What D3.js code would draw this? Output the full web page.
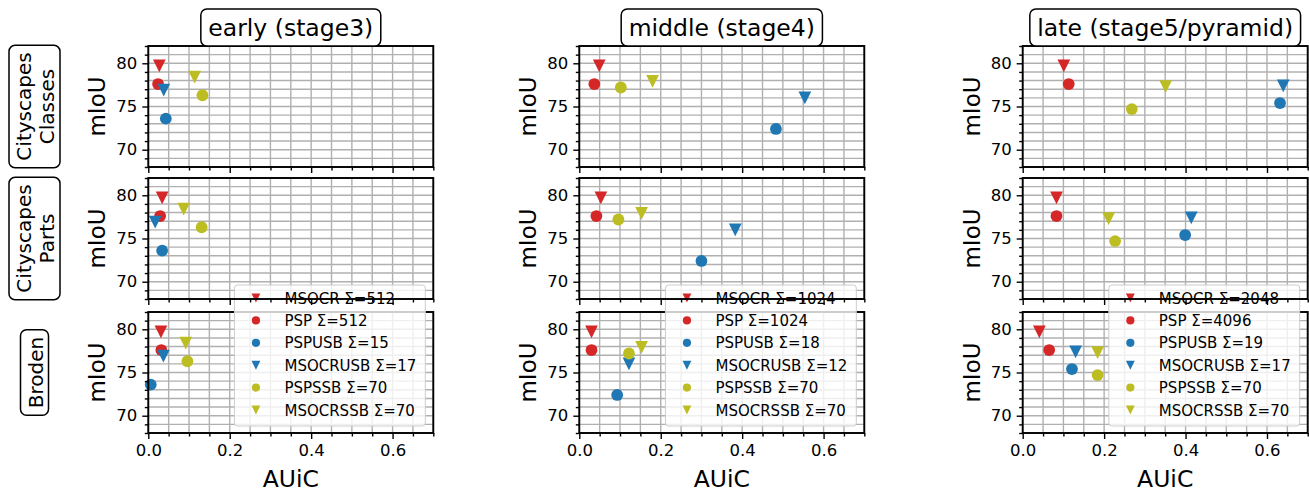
<!DOCTYPE html>
<html>
<head>
<script src="https://d3js.org/d3.v7.min.js"></script>
<style>
  body { margin: 0; background: #fff; }
  text { font-family: "DejaVu Sans", sans-serif; fill: #000; }
</style>
</head>
<body>
<script>
// ---- data ----
var stages = ["early (stage3)", "middle (stage4)", "late (stage5/pyramid)"];
var datasets = [["Cityscapes", "Classes"], ["Cityscapes", "Parts"], ["Broden"]];
var methods = ["MSOCR", "PSP", "PSPUSB", "MSOCRUSB", "PSPSSB", "MSOCRSSB"];

var sigmaEarly  = [512, 512, 15, 17, 70, 70];
var sigmaMiddle = [1024, 1024, 18, 12, 70, 70];
var sigmaLate   = [2048, 4096, 19, 17, 70, 70];

var miouEarly  = [79.7, 77.6, 73.6, 76.9, 76.3, 78.4];
var miouMiddle = [79.7, 77.6, 72.4, 76.0, 77.2, 77.9];
var miouLate   = [79.7, 77.6, 75.4, 77.4, 74.7, 77.3];

// AUiC per dataset row: Classes, Parts, Broden
var auicEarly  = [[0.027, 0.024, 0.043, 0.038, 0.133, 0.114],
                  [0.034, 0.029, 0.034, 0.017, 0.131, 0.087],
                  [0.031, 0.032, 0.006, 0.037, 0.096, 0.092]];
var auicMiddle = [[0.049, 0.037, 0.483, 0.554, 0.102, 0.180],
                  [0.053, 0.042, 0.300, 0.383, 0.096, 0.153],
                  [0.030, 0.030, 0.093, 0.122, 0.122, 0.153]];
var auicLate   = [[0.101, 0.113, 0.632, 0.640, 0.268, 0.351],
                  [0.083, 0.083, 0.399, 0.414, 0.227, 0.211],
                  [0.041, 0.065, 0.121, 0.130, 0.184, 0.184]];

var xTicks = [0.0, 0.2, 0.4, 0.6];
var yTicks = [70, 75, 80];

var sigmas = [sigmaEarly, sigmaMiddle, sigmaLate];
var mious = [miouEarly, miouMiddle, miouLate];
var auics = [auicEarly, auicMiddle, auicLate];

// ---- style / layout ----
var colors = ["#d62728", "#d62728", "#1f77b4", "#1f77b4", "#bcbd22", "#bcbd22"];
var shapes = ["tri", "dot", "dot", "tri", "dot", "tri"];

var W = 1309, H = 492;
var colLeft = [148.3, 579.3, 1022.7], axW = 285;
var rowTop = [46, 178, 312], axH = 121;

var svg = d3.select("body").append("svg")
  .attr("width", W).attr("height", H);

var gMain = svg.append("g");
var gSpine3 = svg.append("g");
var gLegend = svg.append("g");
var gSpine12 = svg.append("g");

function marker(g, shape, cx, cy, s, color) {
  if (shape == "dot") {
    g.append("circle").attr("cx", cx).attr("cy", cy).attr("r", s).attr("fill", color);
  } else {
    var h = s * 1.08;
    g.append("path")
      .attr("d", "M" + cx + "," + (cy + h) + "L" + (cx - h) + "," + (cy - h) + "L" + (cx + h) + "," + (cy - h) + "Z")
      .attr("fill", color);
  }
}

var minorX = d3.range(0, 0.7001, 0.05).filter(function(v) { return xTicks.every(function(t) { return Math.abs(t - v) > 1e-6; }); });
var minorY = d3.range(68, 82.001, 1).filter(function(v) { return yTicks.indexOf(v) < 0; });

for (var c = 0; c < 3; c++) {
  for (var r = 0; r < 3; r++) {
    var x = d3.scaleLinear().domain([0, 0.7]).range([colLeft[c], colLeft[c] + axW]);
    var y = d3.scaleLinear().domain([68, 82]).range([rowTop[r] + axH, rowTop[r]]);

    var g = gMain.append("g");
    // grid
    g.selectAll(".gx").data(d3.range(0, 0.7001, 0.05)).enter().append("line")
      .attr("x1", function(d) { return x(d); }).attr("x2", function(d) { return x(d); })
      .attr("y1", rowTop[r]).attr("y2", rowTop[r] + axH)
      .attr("stroke", "#b0b0b0").attr("stroke-width", 1.4);
    g.selectAll(".gy").data(d3.range(68, 82.001, 1)).enter().append("line")
      .attr("x1", colLeft[c]).attr("x2", colLeft[c] + axW)
      .attr("y1", function(d) { return y(d); }).attr("y2", function(d) { return y(d); })
      .attr("stroke", "#b0b0b0").attr("stroke-width", 1.4);

    // points
    for (var m = 0; m < methods.length; m++) {
      marker(g, shapes[m], x(auics[c][r][m]), y(mious[c][m]), 5.9, colors[m]);
    }

    // spines & ticks
    var gs = (r == 2 ? gSpine3 : gSpine12).append("g");
    var ax = gs.append("g").attr("transform", "translate(0," + (rowTop[r] + axH) + ")")
      .call(d3.axisBottom(x).tickValues(xTicks).tickSize(6).tickPadding(5)
        .tickFormat(r == 2 ? d3.format(".1f") : ""));
    ax.append("g").call(d3.axisBottom(x).tickValues(minorX).tickSize(3.5).tickFormat(""));
    var ay = gs.append("g").attr("transform", "translate(" + colLeft[c] + ",0)")
      .call(d3.axisLeft(y).tickValues(yTicks).tickSize(6).tickPadding(5));
    ay.append("g").call(d3.axisLeft(y).tickValues(minorY).tickSize(3.5).tickFormat(""));
    gs.selectAll(".domain").remove();
    gs.selectAll(".tick line").attr("stroke", "#000").attr("stroke-width", 1.4);
    gs.selectAll(".tick text").attr("font-size", 16.5).attr("font-family", "DejaVu Sans").attr("fill", "#000");

    gs.append("rect").attr("x", colLeft[c]).attr("y", rowTop[r])
      .attr("width", axW).attr("height", axH)
      .attr("fill", "none").attr("stroke", "#000").attr("stroke-width", 1.9);

    // y label
    gMain.append("text")
      .attr("transform", "translate(" + (colLeft[c] - 43) + "," + (rowTop[r] + axH / 2) + ") rotate(-90)")
      .attr("text-anchor", "middle").attr("font-size", 23).text("mIoU");
  }

  // x label
  gMain.append("text").attr("x", colLeft[c] + axW / 2).attr("y", 487)
    .attr("text-anchor", "middle").attr("font-size", 23.5).text("AUiC");

  // column title box
  var gt = svg.append("g");
  var tt = gt.append("text").attr("x", colLeft[c] + axW / 2).attr("y", 36)
    .attr("text-anchor", "middle").attr("font-size", 23.5).text(stages[c]);
  var bb = tt.node().getBBox();
  gt.insert("rect", "text").attr("x", bb.x - 7.5).attr("y", 46 - (bb.height + 9))
    .attr("width", bb.width + 15).attr("height", bb.height + 9)
    .attr("rx", 6).attr("fill", "#fff").attr("stroke", "#000").attr("stroke-width", 1.5);

  // legend (lives in the bottom row)
  var lg = gLegend.append("g");
  var lTop = 285, lRight = colLeft[c] + axW - 8;
  var box = lg.append("rect");
  var maxW = 0;
  var texts = [];
  for (var m = 0; m < methods.length; m++) {
    var t = lg.append("text").attr("font-size", 15)
      .text(methods[m] + " \u03A3=" + sigmas[c][m]);
    maxW = Math.max(maxW, t.node().getComputedTextLength());
    texts.push(t);
  }
  var lW = maxW + 59, lLeft = lRight - lW;
  box.attr("x", lLeft).attr("y", lTop).attr("width", lW).attr("height", 141)
    .attr("rx", 3).attr("fill", "#fff").attr("fill-opacity", 0.8)
    .attr("stroke", "#cccccc").attr("stroke-width", 1);
  for (var m = 0; m < methods.length; m++) {
    var cy = lTop + 13 + m * 22.4;
    marker(lg, shapes[m], lLeft + 21.5, cy, 4.1, colors[m]);
    texts[m].attr("x", lLeft + 50).attr("y", cy + 5.5);
  }
}

// row labels
for (var r = 0; r < 3; r++) {
  var cy = rowTop[r] + axH / 2;
  var gr = svg.append("g").attr("transform", "translate(35.5," + cy + ") rotate(-90)");
  var lines = datasets[r];
  var tx = gr.append("text").attr("text-anchor", "middle").attr("font-size", 20);
  lines.forEach(function(s, i) {
    tx.append("tspan").attr("x", 0).attr("y", (i - (lines.length - 1) / 2) * 23 + 7).text(s);
  });
  var b = tx.node().getBBox();
  gr.insert("rect", "text").attr("x", b.x - 7).attr("y", b.y - 3)
    .attr("width", b.width + 14).attr("height", b.height + 4)
    .attr("rx", 6).attr("fill", "#fff").attr("stroke", "#000").attr("stroke-width", 1.5);
}
</script>
</body>
</html>
